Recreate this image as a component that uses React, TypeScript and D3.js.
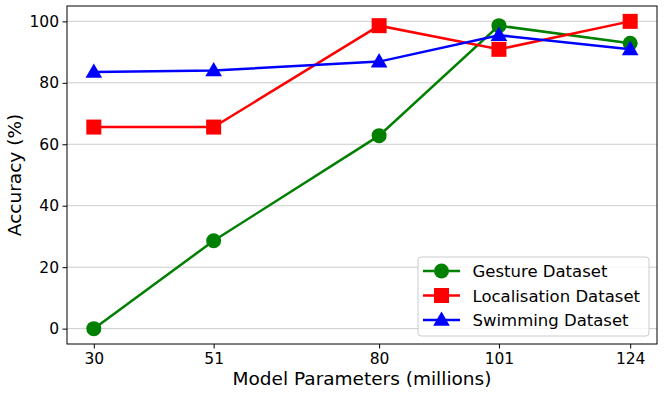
import React, { useEffect, useRef } from 'react';
import * as d3 from 'd3';

// model sizes (millions of parameters)
const params = [30, 51, 80, 101, 124];
const gesture = [0, 28.6, 62.8, 98.6, 92.9];
const localisation = [65.6, 65.6, 98.6, 90.9, 100];
const swimming = [83.5, 84.0, 86.9, 95.5, 90.9];
const yTicks = [0, 20, 40, 60, 80, 100];

const series = [
	{ name: 'Gesture Dataset', values: gesture, color: 'green', marker: 'circle' },
	{ name: 'Localisation Dataset', values: localisation, color: 'red', marker: 'square' },
	{ name: 'Swimming Dataset', values: swimming, color: 'blue', marker: 'triangle' },
];

const W = 664;
const H = 396;
const margin = { top: 6, right: 7, bottom: 52, left: 67 };
const FONT = 'DejaVu Sans, sans-serif';

function drawMarker(g: any, type: string, x: number, y: number, color: string) {
	if (type === 'circle') {
		g.append('circle').attr('cx', x).attr('cy', y).attr('r', 7.5).attr('fill', color);
	} else if (type === 'square') {
		g.append('rect').attr('x', x - 7.5).attr('y', y - 7.5).attr('width', 15).attr('height', 15).attr('fill', color);
	} else {
		const sym = d3.symbol().type(d3.symbolTriangle).size(120);
		g.append('path').attr('d', sym()).attr('transform', `translate(${x},${y + 1})`).attr('fill', color);
	}
}

export default function App() {
	const ref = useRef<SVGSVGElement>(null);

	useEffect(() => {
		const svg = d3.select(ref.current);
		svg.selectAll('*').remove();
		const x0 = margin.left;
		const x1 = W - margin.right;
		const y0 = H - margin.bottom;
		const y1 = margin.top;

		// matplotlib-style 5% padding
		const xScale = d3.scaleLinear().domain([25.3, 128.7]).range([x0, x1]);
		const yScale = d3.scaleLinear().domain([-5, 105]).range([y0, y1]);

		// grid
		svg
			.append('g')
			.selectAll('line')
			.data(yTicks)
			.enter()
			.append('line')
			.attr('x1', x0)
			.attr('x2', x1)
			.attr('y1', d => yScale(d))
			.attr('y2', d => yScale(d))
			.attr('stroke', '#cccccc')
			.attr('stroke-width', 1);

		// axes
		const xAxis = svg
			.append('g')
			.attr('transform', `translate(0,${y0})`)
			.call(d3.axisBottom(xScale).tickValues(params).tickSize(4.5).tickSizeOuter(0).tickPadding(4));
		const yAxis = svg
			.append('g')
			.attr('transform', `translate(${x0},0)`)
			.call(d3.axisLeft(yScale).tickValues(yTicks).tickSize(4.5).tickSizeOuter(0).tickPadding(3.5));
		[xAxis, yAxis].forEach(a => {
			a.select('.domain').remove();
			a.selectAll('text').attr('font-family', FONT).attr('font-size', 15.5).attr('fill', '#000');
			a.selectAll('line').attr('stroke', '#000').attr('stroke-width', 1);
		});

		// frame
		svg
			.append('rect')
			.attr('x', x0)
			.attr('y', y1)
			.attr('width', x1 - x0)
			.attr('height', y0 - y1)
			.attr('fill', 'none')
			.attr('stroke', '#000')
			.attr('stroke-width', 1);

		const line = d3
			.line<number>()
			.x((d, i) => xScale(params[i]))
			.y(d => yScale(d));

		const plot = svg.append('g');
		series.forEach(s => {
			plot
				.append('path')
				.attr('d', line(s.values))
				.attr('fill', 'none')
				.attr('stroke', s.color)
				.attr('stroke-width', 2.5);
			s.values.forEach((v, i) => drawMarker(plot, s.marker, xScale(params[i]), yScale(v), s.color));
		});

		// labels
		svg
			.append('text')
			.attr('x', (x0 + x1) / 2)
			.attr('y', 385)
			.attr('text-anchor', 'middle')
			.attr('font-family', FONT)
			.attr('font-size', 18.5)
			.text('Model Parameters (millions)');
		svg
			.append('text')
			.attr('transform', `translate(21,${(y0 + y1) / 2}) rotate(-90)`)
			.attr('text-anchor', 'middle')
			.attr('font-family', FONT)
			.attr('font-size', 18.5)
			.text('Accuracy (%)');

		// legend
		const lg = svg.append('g');
		lg.append('rect')
			.attr('x', 418)
			.attr('y', 257)
			.attr('width', 231)
			.attr('height', 79)
			.attr('rx', 3)
			.attr('fill', 'rgba(255,255,255,0.8)')
			.attr('stroke', '#cccccc')
			.attr('stroke-width', 1);
		series.forEach((s, i) => {
			const cy = 271 + i * 24.5;
			lg.append('line')
				.attr('x1', 423)
				.attr('x2', 460)
				.attr('y1', cy)
				.attr('y2', cy)
				.attr('stroke', s.color)
				.attr('stroke-width', 2.5);
			drawMarker(lg, s.marker, 441.5, cy, s.color);
			lg.append('text')
				.attr('x', 472.5)
				.attr('y', cy + 6)
				.attr('font-family', FONT)
				.attr('font-size', 16.5)
				.text(s.name);
		});
	}, []);

	return <svg ref={ref} width={W} height={H} style={{ position: 'absolute', left: 0, top: 0, background: '#fff' }} />;
}
